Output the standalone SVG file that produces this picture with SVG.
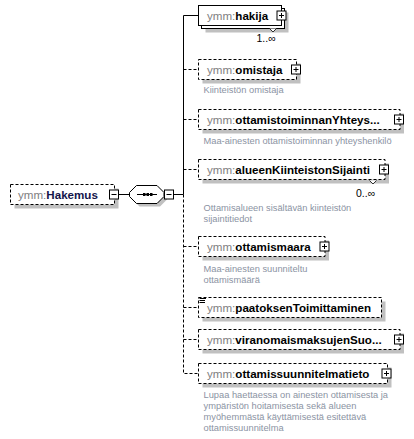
<svg xmlns="http://www.w3.org/2000/svg" width="414" height="439" viewBox="0 0 414 439">
<style>
.box{fill:#fff;stroke:#000;stroke-width:1}
.opt{stroke-dasharray:3,2}
.sh{fill:#c0c0c0}
.ln{stroke:#000;stroke-width:1;fill:none}
.dl{stroke:#000;stroke-width:1;fill:none;stroke-dasharray:3,2}
.t{font-family:"Liberation Sans",Arial,sans-serif;font-size:11.6px}
.ns{fill:#808080}
.nm{fill:#000;font-weight:bold}
.d{font-family:"Liberation Sans",Arial,sans-serif;font-size:9.3px;fill:#8b93a3}
.occ{font-family:"Liberation Sans",Arial,sans-serif;font-size:10.5px;fill:#000}
</style>
<defs>
<g id="plus"><rect x="0" y="0" width="9" height="9" class="box"/><path d="M2 4.5H7M4.5 2V7" class="ln"/></g>
<g id="minus"><rect x="0" y="0" width="9" height="9" class="box"/><path d="M2 4.5H7" class="ln"/></g>
</defs>
<rect width="414" height="439" fill="#fff"/>
<g id="connectors">
<path d="M118.5 194.5H129.5" class="ln"/>
<path d="M173.5 194.5H183.5" class="ln"/>
<path d="M183.5 194.5V15.5H198.5" class="ln"/>
<path d="M183.5 194.5V373.5H198.5" class="dl"/>
<path d="M183.5 69.5H198.5M183.5 119.5H198.5M183.5 169.5H198.5M183.5 246.5H198.5M183.5 307.5H198.5M183.5 339.5H198.5" class="dl"/>
</g>
<g id="Hakemus">
<rect x="14.5" y="188.5" width="104" height="20" class="sh"/>
<rect x="10.5" y="184.5" width="104" height="20" class="box opt"/>
<text x="18" y="198.5" class="t"><tspan class="ns">ymm:</tspan><tspan style="font-weight:bold;fill:#14144a">Hakemus</tspan></text>
<use href="#minus" x="109.5" y="190"/>
</g>
<g id="sequence">
<polygon points="139.5,188.5 160,188.5 167,195.5 167,199.5 160,206.5 139.5,206.5 132.5,199.5 132.5,195.5" class="sh"/>
<polygon points="136.5,185.5 157,185.5 164,192.5 164,196.5 157,203.5 136.5,203.5 129.5,196.5 129.5,192.5" class="box"/>
<path d="M137 194.5H157" class="ln"/>
<rect x="143" y="193" width="2.5" height="3" fill="#000"/>
<rect x="146.5" y="193" width="2.5" height="3" fill="#000"/>
<rect x="150" y="193" width="2.5" height="3" fill="#000"/>
<use href="#minus" x="164.5" y="190"/>
</g>
<g id="hakija">
<rect x="205.5" y="12.5" width="83" height="20" class="sh"/>
<rect x="201.5" y="8.5" width="83" height="20" class="box"/>
<rect x="198.5" y="5.5" width="83" height="20" class="box"/>
<text x="207" y="19.5" class="t"><tspan class="ns">ymm:</tspan><tspan class="nm">hakija</tspan></text>
<use href="#plus" x="277" y="11"/>
<polyline points="269.5,28.5 273,32 276.5,28.5" fill="#fff" stroke="#000" stroke-width="0.8"/>
<text x="256.5" y="42" class="occ">1..∞</text>
</g>
<g id="omistaja">
<rect x="202.5" y="63.5" width="98" height="20" class="sh"/>
<rect x="198.5" y="59.5" width="98" height="20" class="box opt"/>
<text x="207" y="73.5" class="t"><tspan class="ns">ymm:</tspan><tspan class="nm">omistaja</tspan></text>
<use href="#plus" x="291.5" y="65"/>
<text x="203.5" y="93" class="d">Kiinteistön omistaja</text>
</g>
<g id="ottamistoiminnanYhteyshenkilo">
<rect x="202.5" y="113.5" width="201.5" height="20" class="sh"/>
<rect x="198.5" y="109.5" width="201.5" height="20" class="box opt"/>
<text x="207" y="123.5" class="t"><tspan class="ns">ymm:</tspan><tspan class="nm">ottamistoiminnanYhteys...</tspan></text>
<use href="#plus" x="394.5" y="115"/>
<text x="203.5" y="144.3" class="d">Maa-ainesten ottamistoiminnan yhteyshenkilö</text>
</g>
<g id="alueenKiinteistonSijainti">
<rect x="202.5" y="163.5" width="186.5" height="20" class="sh"/>
<rect x="198.5" y="159.5" width="186.5" height="20" class="box opt"/>
<text x="207" y="173.5" class="t"><tspan class="ns">ymm:</tspan><tspan class="nm">alueenKiinteistonSijainti</tspan></text>
<use href="#plus" x="379.5" y="165"/>
<polyline points="369.5,180.5 373,184 376.5,180.5" fill="#fff" stroke="#000" stroke-width="0.8"/>
<text x="356" y="196.5" class="occ">0..∞</text>
<text x="203.5" y="211" class="d">Ottamisalueen sisältävän kiinteistön</text>
<text x="203.5" y="222" class="d">sijaintitiedot</text>
</g>
<g id="ottamismaara">
<rect x="202.5" y="240.5" width="126.5" height="20" class="sh"/>
<rect x="198.5" y="236.5" width="126.5" height="20" class="box opt"/>
<text x="207" y="250.5" class="t"><tspan class="ns">ymm:</tspan><tspan class="nm">ottamismaara</tspan></text>
<use href="#plus" x="320" y="242"/>
<text x="203.5" y="272" class="d">Maa-ainesten suunniteltu</text>
<text x="203.5" y="283" class="d">ottamismäärä</text>
</g>
<g id="paatoksenToimittaminen">
<rect x="202.5" y="301.5" width="183" height="20" class="sh"/>
<rect x="198.5" y="297.5" width="183" height="20" class="box opt"/>
<path d="M199.5 298.5H206M199.5 300.5H205M199.5 302.5H205" class="ln"/>
<text x="207" y="311.5" class="t"><tspan class="ns">ymm:</tspan><tspan class="nm">paatoksenToimittaminen</tspan></text>
</g>
<g id="viranomaismaksujenSuorittaja">
<rect x="202.5" y="333.5" width="201.5" height="20" class="sh"/>
<rect x="198.5" y="329.5" width="201.5" height="20" class="box opt"/>
<text x="207" y="343.5" class="t"><tspan class="ns">ymm:</tspan><tspan class="nm">viranomaismaksujenSuo...</tspan></text>
<use href="#plus" x="394.5" y="335"/>
</g>
<g id="ottamissuunnitelmatieto">
<rect x="202.5" y="367.5" width="189" height="20" class="sh"/>
<rect x="198.5" y="363.5" width="189" height="20" class="box opt"/>
<text x="207" y="377.5" class="t"><tspan class="ns">ymm:</tspan><tspan class="nm">ottamissuunnitelmatieto</tspan></text>
<use href="#plus" x="382" y="369"/>
<text x="203.5" y="398" class="d">Lupaa haettaessa on ainesten ottamisesta ja</text>
<text x="203.5" y="409" class="d">ympäristön hoitamisesta sekä alueen</text>
<text x="203.5" y="420" class="d">myöhemmästä käyttämisestä esitettävä</text>
<text x="203.5" y="431" class="d">ottamissuunnitelma</text>
</g>
</svg>
